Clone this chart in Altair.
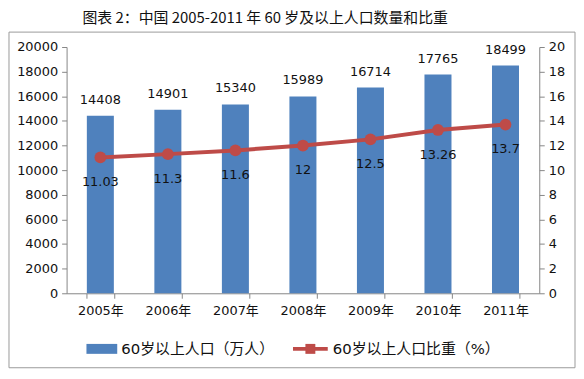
import altair as alt
import pandas as pd

years = ["2005年", "2006年", "2007年", "2008年", "2009年", "2010年", "2011年"]
population = [14408, 14901, 15340, 15989, 16714, 17765, 18499]
ratio = [11.03, 11.3, 11.6, 12, 12.5, 13.26, 13.7]
ratio_labels = ["11.03", "11.3", "11.6", "12", "12.5", "13.26", "13.7"]
legend_labels = ["60岁以上人口（万人）", "60岁以上人口比重（%）"]
title_text = "图表 2：中国 2005-2011 年 60 岁及以上人口数量和比重"
left_ticks = [0, 2000, 4000, 6000, 8000, 10000, 12000, 14000, 16000, 18000, 20000]
right_ticks = [0, 2, 4, 6, 8, 10, 12, 14, 16, 18, 20]

df = pd.DataFrame({"year": years, "pop": population, "ratio": ratio, "rlabel": ratio_labels})

FONT = "DejaVu Sans, Noto Sans CJK SC"
BLUE = "#4F81BD"
RED = "#BE4B48"
AXIS_GRAY = "#868686"

xscale = alt.Scale(paddingInner=0.6, paddingOuter=0.3)
xenc = alt.X("year:N", sort=years, scale=xscale, title=None,
             axis=alt.Axis(labelAngle=0, tickBand="extent", tickSize=5,
                           labelPadding=6, domainColor=AXIS_GRAY, tickColor=AXIS_GRAY))

base = alt.Chart(df).encode(x=xenc)

yleft = alt.Y("pop:Q", scale=alt.Scale(domain=[0, 20000]), title=None,
              axis=alt.Axis(orient="left", values=left_ticks, grid=False,
                            format="d", labelOverlap=False, labelFlush=False, tickCount=11,
                            tickSize=5, labelPadding=4, domainColor=AXIS_GRAY, tickColor=AXIS_GRAY))
bars = base.mark_bar(color=BLUE).encode(y=yleft)
bar_text = base.mark_text(baseline="bottom", dy=-9, fontSize=13, font=FONT, color="#111").encode(
    y=yleft, text=alt.Text("pop:Q", format="d"))
left = alt.layer(bars, bar_text)

yright = alt.Y("ratio:Q", scale=alt.Scale(domain=[0, 20]), title=None,
               axis=alt.Axis(orient="right", values=right_ticks, grid=False,
                             format="d", labelOverlap=False, labelFlush=False, tickCount=11,
                             tickSize=5, labelPadding=4, domainColor=AXIS_GRAY, tickColor=AXIS_GRAY))
line = base.mark_line(color=RED, strokeWidth=4).encode(y=yright)
pts = base.mark_point(filled=True, shape="circle", size=140, color=RED, opacity=1).encode(y=yright)
line_text = base.mark_text(baseline="middle", dy=25, fontSize=13, font=FONT, color="#111").encode(
    y=yright, text="rlabel:N")
right = alt.layer(line, pts, line_text)

one = alt.Chart(pd.DataFrame({"a": [0]}))
border = one.mark_rect(fill="transparent", stroke="#9A9A9A", strokeWidth=1).encode(
    x=alt.value(-58), x2=alt.value(512), y=alt.value(-15), y2=alt.value(323))
title = one.mark_text(align="left", baseline="middle", fontSize=15, font="Noto Sans CJK SC", color="#111").encode(
    x=alt.value(16), y=alt.value(-29), text=alt.value(title_text))
leg1_box = one.mark_rect(color=BLUE).encode(
    x=alt.value(20), x2=alt.value(51), y=alt.value(299), y2=alt.value(309))
leg1_txt = one.mark_text(align="left", baseline="middle", fontSize=15, font=FONT, color="#111").encode(
    x=alt.value(55), y=alt.value(304), text=alt.value(legend_labels[0]))
leg2_line = one.mark_rule(color=RED, strokeWidth=4).encode(
    x=alt.value(228), x2=alt.value(263), y=alt.value(304))
leg2_pt = one.mark_point(shape="square", filled=True, size=100, color=RED, opacity=1).encode(
    x=alt.value(245.5), y=alt.value(304))
leg2_txt = one.mark_text(align="left", baseline="middle", fontSize=15, font=FONT, color="#111").encode(
    x=alt.value(268), y=alt.value(304), text=alt.value(legend_labels[1]))

decor = alt.layer(border, title, leg1_box, leg1_txt, leg2_line, leg2_pt, leg2_txt)

chart = alt.layer(left, right, decor).resolve_scale(y="independent").properties(
    width=476, height=248,
    autosize=alt.AutoSizeParams(type="none"),
    padding={"left": 59, "top": 38, "right": 37, "bottom": 77},
).configure_view(stroke=None).configure_axis(
    labelFont=FONT, labelFontSize=13, labelColor="#111"
)

chart.save("out.html", embed_options={"renderer": "svg", "actions": False})
